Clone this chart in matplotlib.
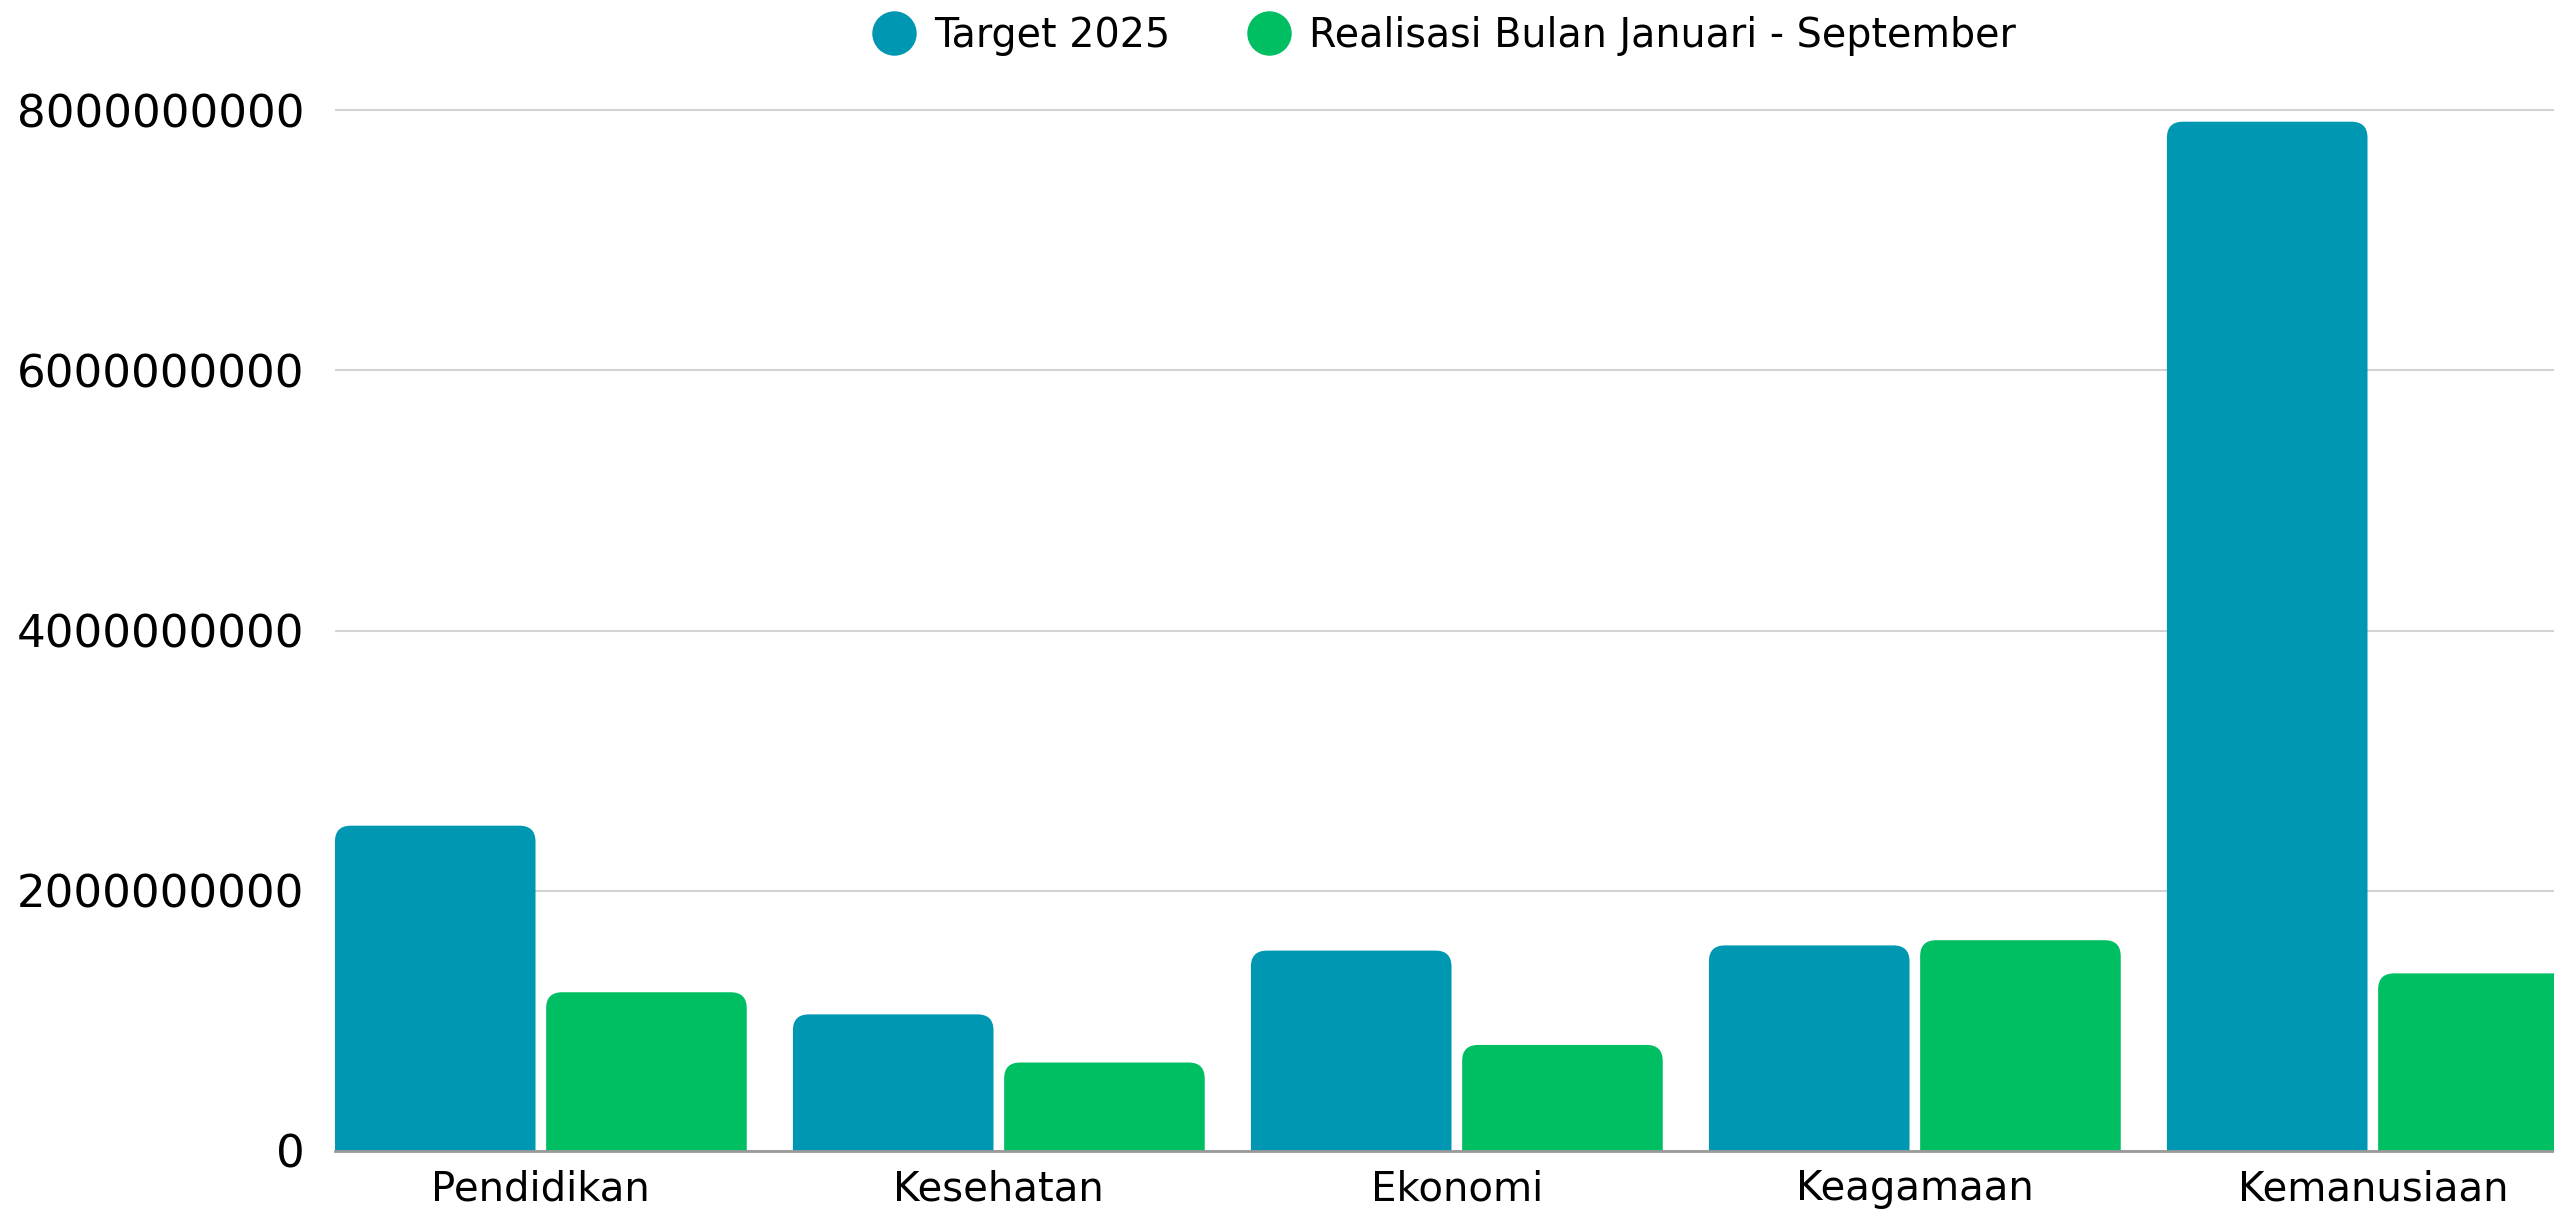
import matplotlib.pyplot as plt
from matplotlib.patches import FancyBboxPatch
from matplotlib.lines import Line2D
import numpy as np

# data
categories = ['Pendidikan', 'Kesehatan', 'Ekonomi', 'Keagamaan', 'Kemanusiaan']
target_2025 = [2.50e9, 1.05e9, 1.54e9, 1.58e9, 7.91e9]
realisasi = [1.22e9, 0.68e9, 0.815e9, 1.62e9, 1.365e9]
series_names = ['Target 2025', 'Realisasi Bulan Januari - September']
series_colors = ['#0097B2', '#00BF63']
yticks = [0, 2e9, 4e9, 6e9, 8e9]

plt.rcParams['font.family'] = ['DejaVu Sans']

W, H = 2554, 1211
fig = plt.figure(figsize=(W / 100, H / 100), dpi=100)

# axes runs a bit past the right edge of the figure (chart is cropped)
x_lo, x_hi = -0.4494, 4.4494
y_hi = 8.2e9
px_per_x = 458.0
px_per_y = 1041.0 / 8e9
ax_left, ax_bottom = 335, 1151
ax_w = (x_hi - x_lo) * px_per_x
ax_h = y_hi * px_per_y
ax = fig.add_axes([ax_left / W, (H - ax_bottom) / H, ax_w / W, ax_h / H])

x = np.arange(len(categories))
bw = 0.438
off = 0.2306

bars = [ax.bar(x - off, target_2025, bw, color=series_colors[0]),
        ax.bar(x + off, realisasi, bw, color=series_colors[1])]

# swap the plain bars for ones with rounded top corners
r_px = 16
rx = r_px / px_per_x
ry = r_px / px_per_y
for cont, col in zip(bars, series_colors):
    for rect in cont:
        rect.set_visible(False)
        bx, bwid, bh = rect.get_x(), rect.get_width(), rect.get_height()
        p = FancyBboxPatch((bx, -2 * ry), bwid, bh + 2 * ry,
                           boxstyle=f'round,pad=0,rounding_size={rx}',
                           mutation_aspect=ry / rx,
                           facecolor=col, edgecolor='none', zorder=2)
        ax.add_patch(p)

ax.set_xlim(x_lo, x_hi)
ax.set_ylim(0, y_hi)
ax.set_yticks(yticks)
ax.set_yticklabels([f'{int(v)}' for v in yticks])
ax.set_xticks(x)
ax.set_xticklabels(categories)
ax.tick_params(axis='y', length=0, pad=22, labelsize=32.5)
ax.tick_params(axis='x', length=0, pad=13, labelsize=29)

ax.grid(axis='y', color='#D3D3D3', linewidth=1.5, zorder=0)
ax.set_axisbelow(True)
for s in ['top', 'right', 'left']:
    ax.spines[s].set_visible(False)
ax.spines['bottom'].set_color('#9A9A9A')
ax.spines['bottom'].set_linewidth(2)
ax.spines['bottom'].set_zorder(3)

handles = [Line2D([], [], marker='o', linestyle='none', markersize=32,
                  markerfacecolor=c, markeredgecolor='none') for c in series_colors]
fig.legend(handles, series_names, loc='center', ncol=2, frameon=False,
           bbox_to_anchor=(1445 / W, 1 - 36 / H), fontsize=28.5,
           handletextpad=0.5, columnspacing=2.0, handlelength=1.0)

fig.savefig('out.png', dpi=100)
